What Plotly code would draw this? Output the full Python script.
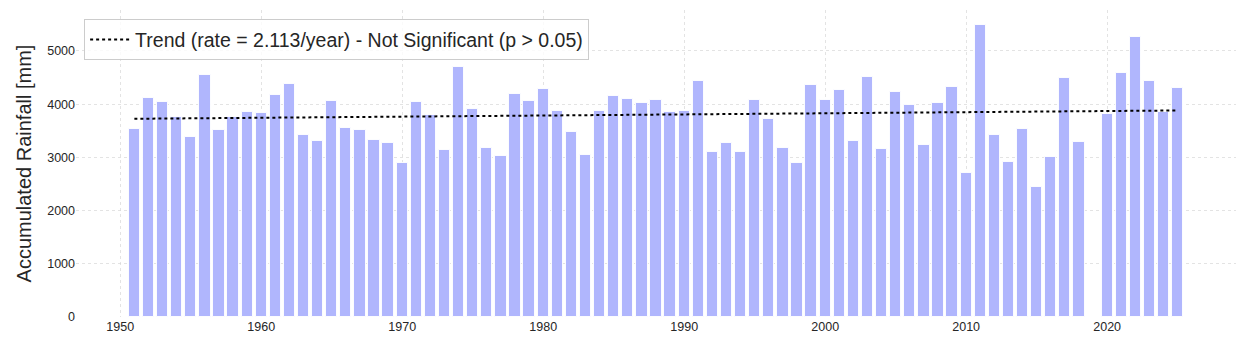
import plotly.graph_objects as go

years = [1951, 1952, 1953, 1954, 1955, 1956, 1957, 1958, 1959, 1960,
         1961, 1962, 1963, 1964, 1965, 1966, 1967, 1968, 1969, 1970,
         1971, 1972, 1973, 1974, 1975, 1976, 1977, 1978, 1979, 1980,
         1981, 1982, 1983, 1984, 1985, 1986, 1987, 1988, 1989, 1990,
         1991, 1992, 1993, 1994, 1995, 1996, 1997, 1998, 1999, 2000,
         2001, 2002, 2003, 2004, 2005, 2006, 2007, 2008, 2009, 2010,
         2011, 2012, 2013, 2014, 2015, 2016, 2017, 2018,
         2020, 2021, 2022, 2023, 2024, 2025]
rainfall = [3530, 4122, 4047, 3765, 3389, 4555, 3521, 3765, 3860, 3835,
            4179, 4386, 3427, 3314, 4066, 3559, 3521, 3333, 3277, 2895,
            4047, 3797, 3145, 4705, 3916, 3183, 3032, 4198, 4066, 4292,
            3879, 3484, 3045, 3879, 4160, 4104, 4028, 4085, 3860, 3879,
            4430, 3107, 3277, 3107, 4085, 3728, 3183, 2902, 4367, 4085,
            4273, 3314, 4518, 3164, 4235, 3991, 3239, 4028, 4329, 2712,
            5494, 3427, 2920, 3540, 2449, 3013, 4499, 3296,
            3822, 4593, 5269, 4442, 3860, 4311]
trend_years = [1951, 2025]
trend_values = [3725, 3881]
trend_label = "Trend (rate = 2.113/year) - Not Significant (p > 0.05)"
x_ticks = [1950, 1960, 1970, 1980, 1990, 2000, 2010, 2020]
y_ticks = [0, 1000, 2000, 3000, 4000, 5000]

fig = go.Figure()
fig.add_trace(go.Bar(
    x=years, y=rainfall, width=0.8,
    marker=dict(color="rgb(176,182,253)", line=dict(color="rgba(255,255,255,0.9)", width=1)),
    showlegend=False,
))
fig.add_trace(go.Scatter(
    x=trend_years, y=trend_values, mode="lines",
    line=dict(color="black", width=2, dash="dot"),
    name=trend_label,
))

grid = "rgba(215,215,215,0.7)"
fig.update_layout(
    width=1246, height=349,
    margin=dict(l=76, r=10, t=10, b=32),
    plot_bgcolor="white", paper_bgcolor="white",
    font=dict(family="Liberation Sans, Arial, sans-serif", color="#262626"),
    xaxis=dict(range=[1946.86, 2029.14], tickvals=x_ticks, showgrid=True,
               gridcolor=grid, griddash="dot", gridwidth=1, zeroline=False,
               showline=False, ticks="", tickfont=dict(size=12.5)),
    yaxis=dict(range=[0, 5769], tickvals=y_ticks, showgrid=True,
               gridcolor=grid, griddash="dot", gridwidth=1, zeroline=False,
               showline=False, ticks="", tickfont=dict(size=12.5),
               title=dict(text="Accumulated Rainfall [mm]", font=dict(size=20), standoff=10)),
    legend=dict(x=0.007, y=0.97, xanchor="left", yanchor="top",
                bgcolor="rgba(255,255,255,0.8)", bordercolor="#cccccc", borderwidth=1,
                font=dict(size=19.5), itemwidth=40),
    bargap=0,
)

fig.write_html("out.html")
